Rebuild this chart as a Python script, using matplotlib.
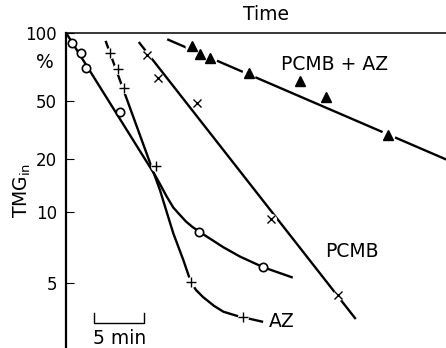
import numpy as np
import matplotlib
matplotlib.use('Agg')
import matplotlib.pyplot as plt

# time in min, TMG_in in %
# no addition (open circles)
circ_t = [0.57, 1.5, 2.0, 5.4, 13.33, 19.73]
circ_v = [90.1, 81.4, 69.9, 42.0, 8.25, 5.83]
circ_fit_t = [0, 8.9, 9.4, 10.05, 10.73, 11.4, 12.0, 12.65, 13.33, 15.73, 17.4, 19.73, 22.57]
circ_fit_v = [100, 16.2, 14.4, 12.3, 10.6, 9.71, 9.11, 8.64, 8.25, 7.09, 6.47, 5.83, 5.29]

# AZ (plus)
az_t = [4.4, 5.23, 5.8, 8.95, 12.47, 17.67]
az_v = [81.4, 69.4, 57.1, 18.2, 5.07, 3.60]
az_fit_t = [4.0, 9.4, 10.07, 10.73, 11.73, 12.47, 13.0, 13.7, 14.8, 15.73, 17.07, 19.6]
az_fit_v = [91.0, 13.3, 10.0, 8.12, 6.26, 5.07, 4.67, 4.36, 4.0, 3.78, 3.63, 3.43]

# PCMB (crosses)
pcmb_t = [8.13, 9.23, 13.07, 20.47, 27.17]
pcmb_v = [79.8, 63.0, 48.7, 9.34, 4.45]
pcmb_fit_t = [7.35, 28.9]
pcmb_fit_v = [90.1, 3.55]

# PCMB + AZ (filled triangles)
both_t = [12.63, 13.4, 14.4, 18.33, 23.4, 25.97, 32.17]
both_v = [87.1, 80.6, 77.3, 66.4, 61.1, 52.1, 29.2]
both_fit_t = [10.23, 38]
both_fit_v = [93.1, 19.9]

yticks = [5, 10, 20, 50, 100]

# the y axis of the original is a hand drawn log scale, not quite even
anchor_log = np.log10([2, 5, 10, 20, 50, 100, 1000])
anchor_pos = [-0.0917, 0.2062, 0.4313, 0.5994, 0.7834, 1.0, 1.719]


def fwd(v):
    v = np.clip(np.asarray(v, dtype=float), 1e-6, None)
    return np.interp(np.log10(v), anchor_log, anchor_pos)


def inv(p):
    return 10 ** np.interp(np.asarray(p, dtype=float), anchor_pos, anchor_log)


plt.rcParams['font.family'] = 'DejaVu Sans'

fig = plt.figure(figsize=(4.46, 3.48), dpi=100)
ax = fig.add_axes([66 / 446, 0, 380 / 446, 315.3 / 348])
ax.set_yscale('function', functions=(fwd, inv))
ax.set_xlim(0, 38)
ax.set_ylim(float(inv(0)), 100)

lw = 1.7
ax.plot(circ_fit_t, circ_fit_v, color='black', lw=lw, zorder=2)
ax.plot(az_fit_t, az_fit_v, color='black', lw=lw, zorder=2)
ax.plot(pcmb_fit_t, pcmb_fit_v, color='black', lw=lw, zorder=2)
ax.plot(both_fit_t, both_fit_v, color='black', lw=lw, zorder=2)

# white gaps around the markers
for t, v, s in [(az_t, az_v, 8), (pcmb_t, pcmb_v, 8), (both_t, both_v, 10)]:
    ax.plot(t, v, 'o', ms=s, color='white', mec='none', zorder=3)

ax.plot(circ_t, circ_v, 'o', ms=6, mfc='white', mec='black', mew=1.2, zorder=4)
ax.plot(az_t, az_v, '+', ms=7, color='black', mew=1.0, zorder=4)
ax.plot(pcmb_t, pcmb_v, 'x', ms=6, color='black', mew=1.0, zorder=4)
ax.plot(both_t, both_v, '^', ms=6.5, color='black', zorder=4)

ax.text(26.9, 72.1, 'PCMB + AZ', fontsize=13.5, ha='center', va='center')
ax.text(28.55, 6.77, 'PCMB', fontsize=13.5, ha='center', va='center')
ax.text(20.3, 3.43, 'AZ', fontsize=13.5, ha='left', va='center')

# 5 min scale bar
bar_x0 = 2.83
bar_len = 5
ax.plot([bar_x0, bar_x0, bar_x0 + bar_len, bar_x0 + bar_len], [3.72, 3.38, 3.38, 3.72],
        color='black', lw=1.0)
ax.text(bar_x0 + bar_len / 2, 2.92, '5 min', fontsize=13.5, ha='center', va='center',
        clip_on=False)

ax.spines['right'].set_visible(False)
ax.spines['bottom'].set_visible(False)
ax.spines['left'].set_linewidth(1.6)
ax.spines['top'].set_linewidth(1.1)

ax.set_xticks([])
ax.set_yticks(yticks)
ax.set_yticklabels([str(v) for v in yticks])
ax.yaxis.set_minor_locator(matplotlib.ticker.NullLocator())
ax.tick_params(axis='y', direction='in', length=6, width=0.8, pad=6.5, labelsize=12)

fig.text(266 / 446, 1 - 15 / 348, 'Time', fontsize=13.5, ha='center', va='center')
fig.text(45 / 446, 1 - 62 / 348, '%', fontsize=13.5, ha='center', va='center')
fig.text(22 / 446, 1 - 190 / 348, r'TMG$_{\mathrm{in}}$', fontsize=13.5, rotation=90,
         ha='center', va='center')

fig.savefig('out.png', dpi=100)
